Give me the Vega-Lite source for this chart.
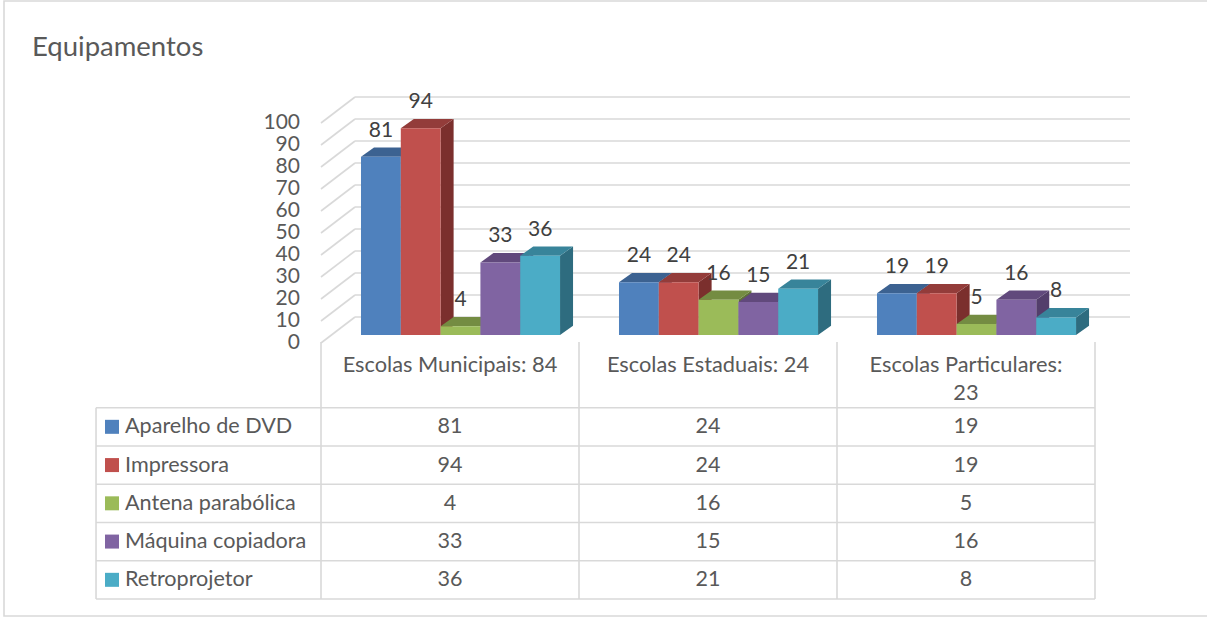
{
"$schema":"https://vega.github.io/schema/vega-lite/v6.json",
"width":1207,"height":617,"padding":0,"autosize":{"type":"none"},
"background":"#ffffff",
"config":{"view":{"stroke":null},"font":"Lato","text":{"font":"Lato"}},
"title":{"text":"Equipamentos","anchor":"start","frame":"group","orient":"top","offset":-61,"dx":32,"fontSize":27.5,"fontWeight":"normal","color":"#595959","font":"Lato"},
"datasets":{
"bars":[
{"escola":"Escolas Municipais: 84","col":0,"equipamento":"Aparelho de DVD","idx":0,"valor":81},
{"escola":"Escolas Municipais: 84","col":0,"equipamento":"Impressora","idx":1,"valor":94},
{"escola":"Escolas Municipais: 84","col":0,"equipamento":"Antena parabólica","idx":2,"valor":4},
{"escola":"Escolas Municipais: 84","col":0,"equipamento":"Máquina copiadora","idx":3,"valor":33},
{"escola":"Escolas Municipais: 84","col":0,"equipamento":"Retroprojetor","idx":4,"valor":36},
{"escola":"Escolas Estaduais: 24","col":1,"equipamento":"Aparelho de DVD","idx":0,"valor":24},
{"escola":"Escolas Estaduais: 24","col":1,"equipamento":"Impressora","idx":1,"valor":24},
{"escola":"Escolas Estaduais: 24","col":1,"equipamento":"Antena parabólica","idx":2,"valor":16},
{"escola":"Escolas Estaduais: 24","col":1,"equipamento":"Máquina copiadora","idx":3,"valor":15},
{"escola":"Escolas Estaduais: 24","col":1,"equipamento":"Retroprojetor","idx":4,"valor":21},
{"escola":"Escolas Particulares: 23","col":2,"equipamento":"Aparelho de DVD","idx":0,"valor":19},
{"escola":"Escolas Particulares: 23","col":2,"equipamento":"Impressora","idx":1,"valor":19},
{"escola":"Escolas Particulares: 23","col":2,"equipamento":"Antena parabólica","idx":2,"valor":5},
{"escola":"Escolas Particulares: 23","col":2,"equipamento":"Máquina copiadora","idx":3,"valor":16},
{"escola":"Escolas Particulares: 23","col":2,"equipamento":"Retroprojetor","idx":4,"valor":8}
],
"ticks":[{"v":0},{"v":10},{"v":20},{"v":30},{"v":40},{"v":50},{"v":60},{"v":70},{"v":80},{"v":90},{"v":100}],
"rows":[{"row":0},{"row":1},{"row":2},{"row":3},{"row":4},{"row":5}],
"cols":[{"col":0},{"col":1},{"col":2},{"col":3}],
"series":[{"equipamento":"Aparelho de DVD","idx":0},{"equipamento":"Impressora","idx":1},{"equipamento":"Antena parabólica","idx":2},{"equipamento":"Máquina copiadora","idx":3},{"equipamento":"Retroprojetor","idx":4}],
"cats":[{"escola":"Escolas Municipais: 84","col":0},{"escola":"Escolas Estaduais: 24","col":1},{"escola":"Escolas Particulares:\n23","col":2}]
},
"layer":[
{"data":{"name":"ticks"},"mark":{"type":"rule","color":"#d9d9d9","strokeWidth":1.6},
 "transform":[{"calculate":"datum.v+11.82","as":"vb"}],
 "encoding":{
  "x":{"datum":0,"type":"quantitative","scale":{"domain":[-1.24419,3.43411],"nice":false,"zero":false},"axis":null},
  "x2":{"datum":0.1318},
  "y":{"field":"v","type":"quantitative","scale":{"domain":[-124.545,155.909],"nice":false,"zero":false},"axis":null},
  "y2":{"field":"vb"}}},
{"data":{"values":[{"f":1}]},"mark":{"type":"rect","fill":"transparent","stroke":"#d9d9d9","strokeWidth":1.6},
 "encoding":{
  "x":{"datum":-1.2287,"type":"quantitative","scale":{"domain":[-1.24419,3.43411],"nice":false,"zero":false},"axis":null},
  "x2":{"datum":3.6},
  "y":{"datum":155.45,"type":"quantitative","scale":{"domain":[-124.545,155.909],"nice":false,"zero":false},"axis":null},
  "y2":{"datum":-124.09}}},
{"data":{"name":"ticks"},"mark":{"type":"rule","color":"#d9d9d9","strokeWidth":1.6},
 "transform":[{"calculate":"datum.v+11.82","as":"vb"}],
 "encoding":{
  "x":{"datum":0.1318,"type":"quantitative","scale":{"domain":[-1.24419,3.43411],"nice":false,"zero":false},"axis":null},
  "x2":{"datum":3.1357},
  "y":{"field":"vb","type":"quantitative","scale":{"domain":[-124.545,155.909],"nice":false,"zero":false},"axis":null}}},
{"data":{"name":"rows"},"mark":{"type":"rule","color":"#d9d9d9","strokeWidth":1.6},
 "transform":[{"calculate":"-29.41-17.386*datum.row","as":"ty"}],
 "encoding":{
  "x":{"datum":-0.872,"type":"quantitative","scale":{"domain":[-1.24419,3.43411],"nice":false,"zero":false},"axis":null},
  "x2":{"datum":3},
  "y":{"field":"ty","type":"quantitative","scale":{"domain":[-124.545,155.909],"nice":false,"zero":false},"axis":null}}},
{"data":{"name":"cols"},"mark":{"type":"rule","color":"#d9d9d9","strokeWidth":1.6},
 "encoding":{
  "x":{"field":"col","type":"quantitative","scale":{"domain":[-1.24419,3.43411],"nice":false,"zero":false},"axis":null},
  "y":{"datum":0.4545,"type":"quantitative","scale":{"domain":[-124.545,155.909],"nice":false,"zero":false},"axis":null},
  "y2":{"datum":-116.34}}},
{"data":{"values":[{"f":1}]},"mark":{"type":"rule","color":"#d9d9d9","strokeWidth":1.6},
 "encoding":{
  "x":{"datum":-0.872,"type":"quantitative","scale":{"domain":[-1.24419,3.43411],"nice":false,"zero":false},"axis":null},
  "y":{"datum":-29.41,"type":"quantitative","scale":{"domain":[-124.545,155.909],"nice":false,"zero":false},"axis":null},
  "y2":{"datum":-116.34}}},
{"data":{"name":"ticks"},"mark":{"type":"text","fontSize":21,"color":"#595959","font":"Lato","align":"right","baseline":"middle"},
 "encoding":{
  "x":{"datum":-0.0814,"type":"quantitative","scale":{"domain":[-1.24419,3.43411],"nice":false,"zero":false},"axis":null},
  "y":{"field":"v","type":"quantitative","scale":{"domain":[-124.545,155.909],"nice":false,"zero":false},"axis":null},
  "text":{"field":"v","type":"quantitative"}}},
{"data":{"name":"bars"},"mark":{"type":"area","orient":"vertical","interpolate":"linear","opacity":1},
 "transform":[
  {"calculate":"datum.col+0.155+datum.idx*0.1543","as":"x0"},
  {"calculate":"datum.x0+0.1543","as":"x1"},
  {"calculate":"datum.valor+3.636","as":"t"},
  {"calculate":"['lado','topo','frente']","as":"face"},
  {"flatten":["face"]},
  {"calculate":"datum.face==='topo'?[0,1,2,3]:[0,1]","as":"p"},
  {"flatten":["p"]},
  {"calculate":"datum.face==='frente'?(datum.p===0?datum.x0:datum.x1):datum.face==='lado'?datum.x1+datum.p*0.0504:[datum.x0,datum.x0+0.0504,datum.x1,datum.x1+0.0504][datum.p]","as":"px"},
  {"calculate":"datum.face==='frente'?datum.t:datum.face==='lado'?datum.t+datum.p*4.23:(datum.p===0?datum.t:datum.t+4.23)","as":"py"},
  {"calculate":"datum.face==='frente'?3.636:datum.face==='lado'?3.636+datum.p*4.23:(datum.p===3?datum.t+4.23:datum.t)","as":"py2"},
  {"calculate":"datum.face+'|'+datum.idx","as":"cor"},
  {"calculate":"datum.col+'|'+datum.idx+'|'+datum.face","as":"chave"}
 ],
 "encoding":{
  "x":{"field":"px","type":"quantitative","scale":{"domain":[-1.24419,3.43411],"nice":false,"zero":false},"axis":null},
  "y":{"field":"py","type":"quantitative","stack":null,"scale":{"domain":[-124.545,155.909],"nice":false,"zero":false},"axis":null},
  "y2":{"field":"py2"},
  "detail":{"field":"chave"},
  "color":{"field":"cor","type":"nominal","legend":null,"scale":{
   "domain":["frente|0","frente|1","frente|2","frente|3","frente|4","topo|0","topo|1","topo|2","topo|3","topo|4","lado|0","lado|1","lado|2","lado|3","lado|4"],
   "range":["#4f81bd","#c0504d","#9bbb59","#8064a2","#4bacc6","#3c6291","#933c3a","#748c42","#61497c","#38849a","#2f4d72","#7b2f2d","#5f7336","#533e6b","#2e6c7f"]}}}},
{"data":{"name":"bars"},"mark":{"type":"text","fontSize":21,"color":"#404040","font":"Lato","baseline":"middle","align":"center"},
 "transform":[
  {"calculate":"datum.col+0.155+(datum.idx+0.5)*0.1543","as":"cx"},
  {"calculate":"datum.valor+3.636+11.8","as":"ly"}],
 "encoding":{
  "x":{"field":"cx","type":"quantitative","scale":{"domain":[-1.24419,3.43411],"nice":false,"zero":false},"axis":null},
  "y":{"field":"ly","type":"quantitative","scale":{"domain":[-124.545,155.909],"nice":false,"zero":false},"axis":null},
  "text":{"field":"valor","type":"quantitative"}}},
{"data":{"name":"cats"},"mark":{"type":"text","fontSize":21.8,"color":"#595959","font":"Lato","baseline":"top","align":"center","lineBreak":"\n","lineHeight":28},
 "transform":[{"calculate":"datum.col+0.5","as":"cx"}],
 "encoding":{
  "x":{"field":"cx","type":"quantitative","scale":{"domain":[-1.24419,3.43411],"nice":false,"zero":false},"axis":null},
  "y":{"datum":-5.5,"type":"quantitative","scale":{"domain":[-124.545,155.909],"nice":false,"zero":false},"axis":null},
  "text":{"field":"escola","type":"nominal"}}},
{"data":{"name":"bars"},"mark":{"type":"text","fontSize":21.5,"color":"#595959","font":"Lato","baseline":"middle","align":"center"},
 "transform":[
  {"calculate":"datum.col+0.5","as":"cx"},
  {"calculate":"-29.7-17.386*(datum.idx+0.5)","as":"ty"}],
 "encoding":{
  "x":{"field":"cx","type":"quantitative","scale":{"domain":[-1.24419,3.43411],"nice":false,"zero":false},"axis":null},
  "y":{"field":"ty","type":"quantitative","scale":{"domain":[-124.545,155.909],"nice":false,"zero":false},"axis":null},
  "text":{"field":"valor","type":"quantitative"}}},
{"data":{"name":"series"},"mark":{"type":"text","fontSize":21.6,"color":"#595959","font":"Lato","baseline":"middle","align":"left"},
 "transform":[{"calculate":"-29.7-17.386*(datum.idx+0.5)","as":"ty"}],
 "encoding":{
  "x":{"datum":-0.7597,"type":"quantitative","scale":{"domain":[-1.24419,3.43411],"nice":false,"zero":false},"axis":null},
  "y":{"field":"ty","type":"quantitative","scale":{"domain":[-124.545,155.909],"nice":false,"zero":false},"axis":null},
  "text":{"field":"equipamento","type":"nominal"}}},
{"data":{"name":"series"},"mark":{"type":"point","shape":"square","filled":true,"size":196,"opacity":1},
 "transform":[{"calculate":"-29.41-17.386*(datum.idx+0.5)","as":"ty"}],
 "encoding":{
  "x":{"datum":-0.81,"type":"quantitative","scale":{"domain":[-1.24419,3.43411],"nice":false,"zero":false},"axis":null},
  "y":{"field":"ty","type":"quantitative","scale":{"domain":[-124.545,155.909],"nice":false,"zero":false},"axis":null},
  "fill":{"field":"equipamento","type":"nominal","legend":null,"scale":{"domain":["Aparelho de DVD","Impressora","Antena parabólica","Máquina copiadora","Retroprojetor"],"range":["#4f81bd","#c0504d","#9bbb59","#8064a2","#4bacc6"]}}}}
]
}
